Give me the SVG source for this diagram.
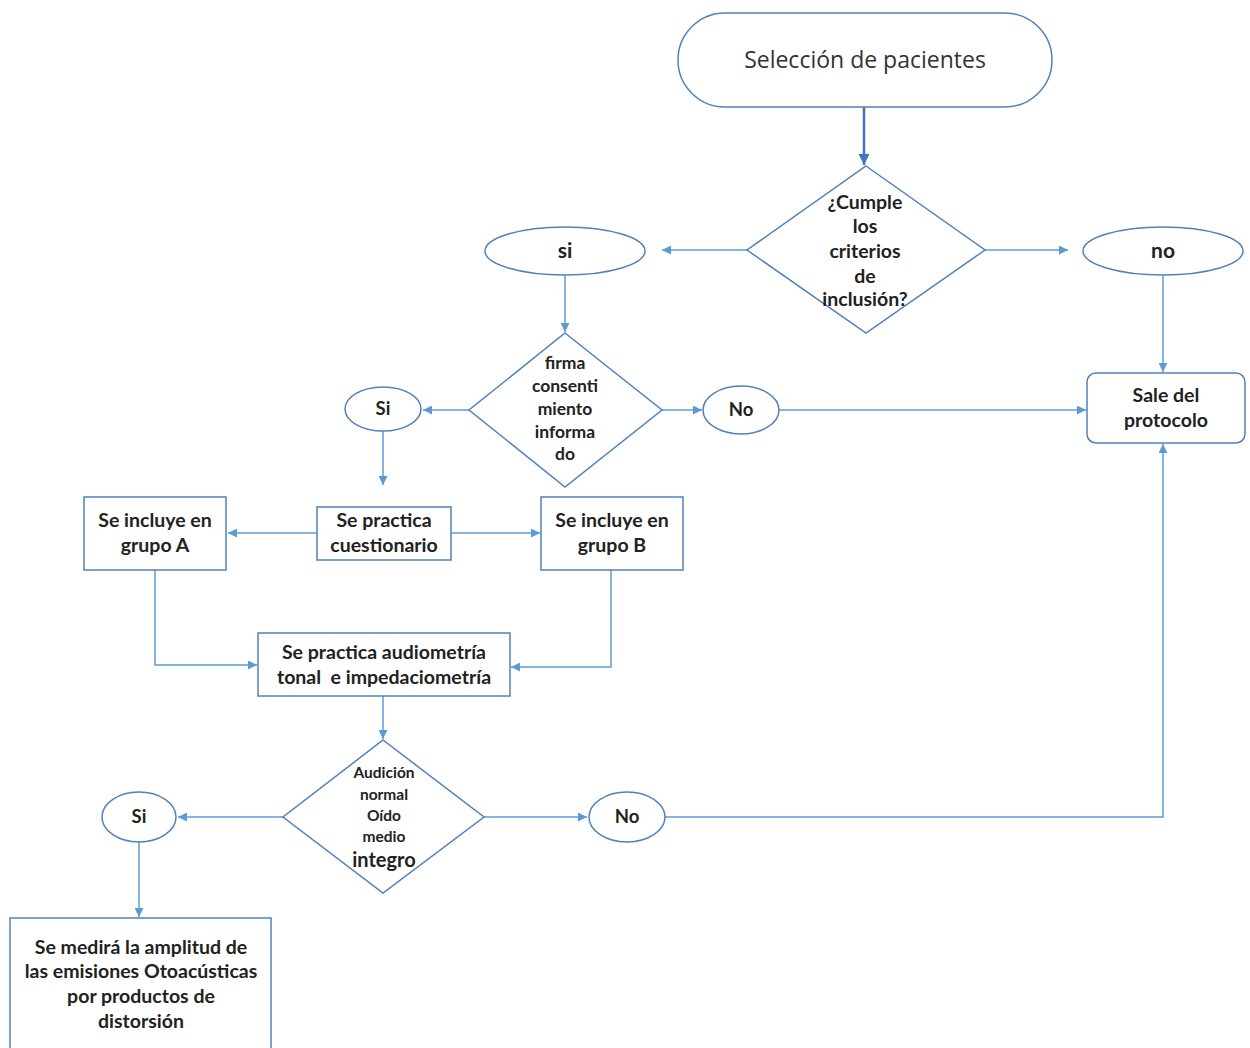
<svg xmlns="http://www.w3.org/2000/svg" width="1250" height="1048" viewBox="0 0 1250 1048">
<defs>
<marker id="ah" viewBox="0 0 10 10" refX="10" refY="5" markerWidth="9" markerHeight="9" markerUnits="userSpaceOnUse" orient="auto">
<path d="M0,0 L10,5 L0,10 z" fill="#5B9BD5"/>
</marker>
<marker id="ah2" viewBox="0 0 10 10" refX="10" refY="5" markerWidth="11" markerHeight="11" markerUnits="userSpaceOnUse" orient="auto">
<path d="M0,0 L10,5 L0,10 z" fill="#4472C4"/>
</marker>
</defs>
<style>
.n{fill:#fff;stroke:#4F81BD;stroke-width:1.5}
.t{font-family:Lato,"Liberation Sans",sans-serif;font-weight:bold;fill:#222;text-anchor:middle}
.c{fill:none;stroke:#5B9BD5;stroke-width:1.5;marker-end:url(#ah)}
</style>
<rect width="1250" height="1048" fill="#fff"/>
<g id="connectors">
<line x1="864" y1="107" x2="864" y2="165" stroke="#4472C4" stroke-width="2.5" marker-end="url(#ah2)"/>
<line class="c" x1="747" y1="250" x2="662" y2="250"/>
<line class="c" x1="985" y1="250" x2="1068" y2="250"/>
<line class="c" x1="1163" y1="275" x2="1163" y2="372"/>
<line class="c" x1="565" y1="275" x2="565" y2="332"/>
<line class="c" x1="469" y1="410" x2="423" y2="410"/>
<line class="c" x1="662" y1="410" x2="702" y2="410"/>
<line class="c" x1="779" y1="410" x2="1086" y2="410"/>
<line class="c" x1="383" y1="430" x2="383" y2="485"/>
<line class="c" x1="317" y1="533" x2="228" y2="533"/>
<line class="c" x1="451" y1="533" x2="540" y2="533"/>
<polyline class="c" points="155,570 155,665 257,665"/>
<polyline class="c" points="611,570 611,667 511,667"/>
<line class="c" x1="383" y1="696" x2="383" y2="739"/>
<line class="c" x1="283" y1="817" x2="178" y2="817"/>
<line class="c" x1="484" y1="817" x2="587" y2="817"/>
<polyline class="c" points="665,817 1163,817 1163,444"/>
<line class="c" x1="139" y1="842" x2="139" y2="917"/>
</g>
<g id="seleccion">
<rect class="n" x="678" y="13" width="374" height="94" rx="47" ry="47"/>
<text x="865" y="68" style="font-family:'Open Sans','Liberation Sans',sans-serif;font-size:23px;fill:#333;text-anchor:middle">Selección de pacientes</text>
</g>
<g id="cumple">
<polygon class="n" points="866,166 985,250 866,333 747,250"/>
<text class="t" style="font-size:19.5px"><tspan x="865" y="209">¿Cumple</tspan><tspan x="865" y="233">los</tspan><tspan x="865" y="258">criterios</tspan><tspan x="865" y="283">de</tspan><tspan x="865" y="306">inclusión?</tspan></text>
</g>
<g id="si1">
<ellipse class="n" cx="565" cy="251" rx="80" ry="24"/>
<text class="t" x="565" y="258" style="font-size:21px">si</text>
</g>
<g id="no1">
<ellipse class="n" cx="1163" cy="251" rx="80" ry="24"/>
<text class="t" x="1163" y="258" style="font-size:21px">no</text>
</g>
<g id="sale">
<rect class="n" x="1087" y="373" width="158" height="70" rx="9" ry="9"/>
<text class="t" style="font-size:19.5px"><tspan x="1166" y="402">Sale del</tspan><tspan x="1166" y="427">protocolo</tspan></text>
</g>
<g id="firma">
<polygon class="n" points="565,333 662,410 565,487 469,410"/>
<text class="t" style="font-size:17.5px"><tspan x="565" y="369">firma</tspan><tspan x="565" y="392">consenti</tspan><tspan x="565" y="415">miento</tspan><tspan x="565" y="438">informa</tspan><tspan x="565" y="460">do</tspan></text>
</g>
<g id="si2">
<ellipse class="n" cx="383" cy="409" rx="38" ry="22"/>
<text class="t" x="383" y="415" style="font-size:18.5px">Si</text>
</g>
<g id="no2">
<ellipse class="n" cx="741" cy="410" rx="38" ry="24"/>
<text class="t" x="741" y="416" style="font-size:18.5px">No</text>
</g>
<g id="cuestionario">
<rect class="n" x="317" y="507" width="134" height="53"/>
<text class="t" style="font-size:19.5px"><tspan x="384" y="527">Se practica</tspan><tspan x="384" y="552">cuestionario</tspan></text>
</g>
<g id="grupoA">
<rect class="n" x="84" y="497" width="142" height="73"/>
<text class="t" style="font-size:19.5px"><tspan x="155" y="527">Se incluye en</tspan><tspan x="155" y="552">grupo A</tspan></text>
</g>
<g id="grupoB">
<rect class="n" x="541" y="497" width="142" height="73"/>
<text class="t" style="font-size:19.5px"><tspan x="612" y="527">Se incluye en</tspan><tspan x="612" y="552">grupo B</tspan></text>
</g>
<g id="audiometria">
<rect class="n" x="258" y="633" width="252" height="63"/>
<text class="t" style="font-size:19.5px"><tspan x="384" y="659">Se practica audiometría</tspan><tspan x="384" y="684" xml:space="preserve">tonal  e impedaciometría</tspan></text>
</g>
<g id="audicion">
<polygon class="n" points="383,740 484,817 383,893 283,817"/>
<text class="t" style="font-size:15.5px"><tspan x="384" y="778">Audición</tspan><tspan x="384" y="800">normal</tspan><tspan x="384" y="821">Oído</tspan><tspan x="384" y="842">medio</tspan></text>
<text class="t" x="384" y="867" style="font-size:20px">integro</text>
</g>
<g id="si3">
<ellipse class="n" cx="139" cy="817" rx="37" ry="25"/>
<text class="t" x="139" y="823" style="font-size:18.5px">Si</text>
</g>
<g id="no3">
<ellipse class="n" cx="627" cy="817" rx="38" ry="25"/>
<text class="t" x="627" y="823" style="font-size:18.5px">No</text>
</g>
<g id="medira">
<rect class="n" x="10" y="918" width="261" height="140"/>
<text class="t" style="font-size:19.5px"><tspan x="141" y="954">Se medirá la amplitud de</tspan><tspan x="141" y="978">las emisiones Otoacústicas</tspan><tspan x="141" y="1003">por productos de</tspan><tspan x="141" y="1028">distorsión</tspan></text>
</g>
</svg>
